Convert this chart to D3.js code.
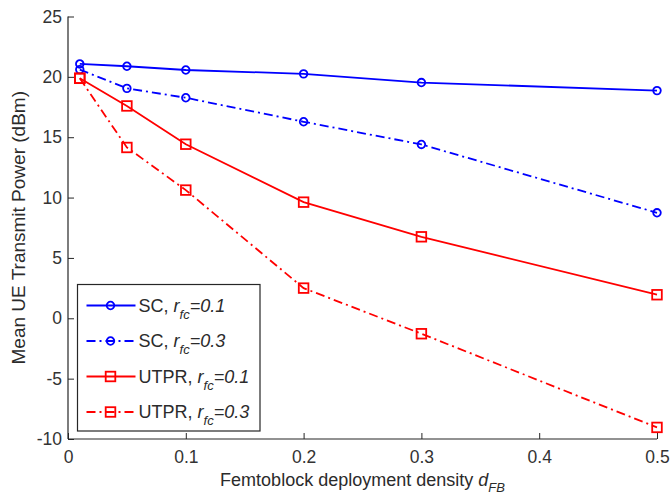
<!DOCTYPE html>
<html>
<head>
<meta charset="utf-8">
<script src="https://cdn.jsdelivr.net/npm/d3@7"></script>
<style>
    body { margin: 0; background: #fff; }
    text { font-family: "Liberation Sans", Arial, sans-serif; fill: #2b2b2b; }
</style>
</head>
<body>
<div id="chart"></div>
<script>
var densite = [0.01, 0.05, 0.1, 0.2, 0.3, 0.5];
var sc_01 = [21.07, 20.88, 20.57, 20.25, 19.53, 18.86];
var sc_03 = [20.6, 19.05, 18.27, 16.28, 14.4, 8.74];
var utpr_01 = [19.88, 17.59, 14.42, 9.62, 6.75, 1.95];
var utpr_03 = [19.88, 14.15, 10.62, 2.5, -1.28, -9.04];
var xTicks = [0, 0.1, 0.2, 0.3, 0.4, 0.5];
var yTicks = [-10, -5, 0, 5, 10, 15, 20, 25];

var series = [
    { nom: "SC", r: "0.1", valeurs: sc_01, couleur: "#0000ff", tiret: null, marque: "rond" },
    { nom: "SC", r: "0.3", valeurs: sc_03, couleur: "#0000ff", tiret: "9,4,2,4", marque: "rond" },
    { nom: "UTPR", r: "0.1", valeurs: utpr_01, couleur: "#ff0000", tiret: null, marque: "carre" },
    { nom: "UTPR", r: "0.3", valeurs: utpr_03, couleur: "#ff0000", tiret: "9,4,2,4", marque: "carre" }
];

var W = 670, H = 495;
var margin = { top: 16.5, right: 13, bottom: 56, left: 68 };
var width = W - margin.left - margin.right,
    height = H - margin.top - margin.bottom;

var svg = d3.select("#chart")
    .append("svg")
    .attr("width", W)
    .attr("height", H)
    .append("g")
    .attr("transform", "translate(" + margin.left + "," + margin.top + ")");

var x = d3.scaleLinear().domain([0, 0.5]).range([0, width]);
var y = d3.scaleLinear().domain([-10, 25]).range([height, 0]);

// axes (ticks vers l'interieur, comme matlab) - tiret simple pour le signe moins
var axeX = svg.append("g")
    .attr("transform", "translate(0," + height + ")")
    .call(d3.axisBottom(x).tickValues(xTicks).tickSize(-6).tickPadding(12).tickFormat(function (d) { return String(d); }));
var axeY = svg.append("g")
    .call(d3.axisLeft(y).tickValues(yTicks).tickSize(-6).tickPadding(6).tickFormat(function (d) { return String(d); }));

[axeX, axeY].forEach(function (a) {
    a.select(".domain").attr("stroke", "#262626").attr("stroke-width", 1.2);
    a.selectAll(".tick line").attr("stroke", "#262626").attr("stroke-width", 1);
    a.selectAll(".tick text").style("font-size", "17.5px").style("fill", "#333");
});
axeY.select(".domain").attr("d", "M0," + height + "V0");
axeX.select(".domain").attr("d", "M0,0H" + width);

// courbes
var ligne = d3.line()
    .x(function (d, i) { return x(densite[i]); })
    .y(function (d) { return y(d); });

function dessinerMarque(g, type, couleur) {
    if (type == "rond") {
        g.append("circle").attr("r", 3.8)
            .attr("fill", "none").attr("stroke", couleur).attr("stroke-width", 1.8);
    }
    else {
        g.append("rect").attr("x", -4.8).attr("y", -4.8).attr("width", 9.6).attr("height", 9.6)
            .attr("fill", "none").attr("stroke", couleur).attr("stroke-width", 1.8);
    }
}

series.forEach(function (s) {
    svg.append("path")
        .datum(s.valeurs)
        .attr("d", ligne)
        .attr("fill", "none")
        .attr("stroke", s.couleur)
        .attr("stroke-width", 1.8)
        .attr("stroke-dasharray", s.tiret);

    s.valeurs.forEach(function (v, i) {
        var g = svg.append("g").attr("transform", "translate(" + x(densite[i]) + "," + y(v) + ")");
        dessinerMarque(g, s.marque, s.couleur);
    });
});

// labels des axes
var labelX = svg.append("text")
    .attr("x", width / 2)
    .attr("y", height + 47)
    .attr("text-anchor", "middle")
    .style("font-size", "18px");
labelX.append("tspan").text("Femtoblock deployment density ");
labelX.append("tspan").text("d").style("font-style", "italic");
labelX.append("tspan").text("FB").style("font-style", "italic").style("font-size", "13px").attr("dy", 6);

svg.append("text")
    .attr("transform", "translate(" + (-43) + "," + (height / 2) + ") rotate(-90)")
    .attr("text-anchor", "middle")
    .style("font-size", "19px")
    .text("Mean UE Transmit Power (dBm)");

// legende
var legende = svg.append("g")
    .attr("transform", "translate(" + (77.5 - margin.left) + "," + (284.5 - margin.top) + ")");

legende.append("rect")
    .attr("width", 182.5)
    .attr("height", 146.5)
    .attr("fill", "#fff")
    .attr("stroke", "#262626")
    .attr("stroke-width", 1.2);

series.forEach(function (s, i) {
    var ly = 21 + i * 35.5;
    legende.append("line")
        .attr("x1", 9).attr("x2", 58)
        .attr("y1", ly).attr("y2", ly)
        .attr("stroke", s.couleur)
        .attr("stroke-width", 1.8)
        .attr("stroke-dasharray", s.tiret);
    var g = legende.append("g").attr("transform", "translate(33," + ly + ")");
    dessinerMarque(g, s.marque, s.couleur);

    var t = legende.append("text")
        .attr("x", 61)
        .attr("y", ly + 6)
        .style("font-size", "18px");
    t.append("tspan").text(s.nom + ", ");
    t.append("tspan").text("r").style("font-style", "italic");
    t.append("tspan").text("fc").style("font-style", "italic").style("font-size", "13px").attr("dy", 7);
    t.append("tspan").text("=" + s.r).style("font-style", "italic").attr("dy", -7);
});
</script>
</body>
</html>
